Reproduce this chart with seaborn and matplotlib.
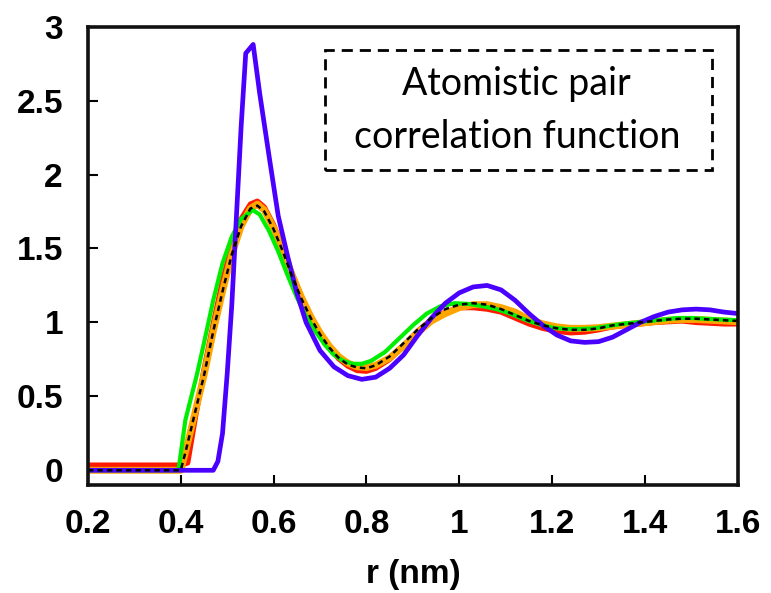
import numpy as np
import pandas as pd
import matplotlib
matplotlib.use("Agg")
import matplotlib.pyplot as plt
from matplotlib.patches import Rectangle
import seaborn as sns

# Pair correlation functions g(r)
r_blue = [0.20, 0.30, 0.40, 0.47, 0.48, 0.49, 0.50, 0.51, 0.52, 0.53, 0.54, 0.556,
          0.57, 0.59, 0.61, 0.63, 0.65, 0.67, 0.70, 0.73, 0.76, 0.79, 0.82, 0.85,
          0.88, 0.91, 0.94, 0.97, 1.00, 1.03, 1.06, 1.09, 1.12, 1.15, 1.18, 1.21,
          1.24, 1.27, 1.30, 1.33, 1.36, 1.39, 1.42, 1.45, 1.48, 1.51, 1.54, 1.57, 1.60]
g_blue = [0.00, 0.00, 0.00, 0.00, 0.06, 0.25, 0.65, 1.12, 1.72, 2.32, 2.82, 2.88,
          2.55, 2.13, 1.72, 1.45, 1.20, 1.00, 0.81, 0.70, 0.64, 0.615, 0.63, 0.69,
          0.78, 0.91, 1.03, 1.13, 1.20, 1.24, 1.25, 1.22, 1.15, 1.06, 0.98, 0.915,
          0.875, 0.865, 0.87, 0.90, 0.95, 1.00, 1.04, 1.07, 1.085, 1.09, 1.085, 1.07, 1.06]

r_red = [0.20, 0.30, 0.40, 0.415, 0.43, 0.45, 0.47, 0.49, 0.51, 0.53, 0.55, 0.565,
         0.58, 0.60, 0.62, 0.64, 0.66, 0.68, 0.70, 0.72, 0.74, 0.76, 0.78, 0.80,
         0.82, 0.85, 0.88, 0.91, 0.94, 0.97, 1.00, 1.03, 1.06, 1.09, 1.12, 1.15,
         1.18, 1.21, 1.24, 1.27, 1.30, 1.33, 1.36, 1.39, 1.42, 1.45, 1.48, 1.51,
         1.54, 1.57, 1.60]
g_red = [0.035, 0.035, 0.035, 0.05, 0.33, 0.68, 0.99, 1.28, 1.52, 1.70, 1.80, 1.82,
         1.78, 1.66, 1.50, 1.33, 1.17, 1.03, 0.92, 0.83, 0.755, 0.705, 0.675, 0.67,
         0.69, 0.75, 0.84, 0.94, 1.02, 1.07, 1.10, 1.10, 1.09, 1.07, 1.03, 0.99,
         0.96, 0.94, 0.93, 0.935, 0.95, 0.97, 0.98, 0.99, 1.00, 1.005, 1.01, 1.00,
         0.995, 0.99, 0.99]

r_green = [0.20, 0.30, 0.395, 0.41, 0.435, 0.45, 0.47, 0.49, 0.51, 0.53, 0.555,
           0.57, 0.59, 0.61, 0.63, 0.65, 0.67, 0.69, 0.71, 0.73, 0.75, 0.77, 0.79,
           0.81, 0.84, 0.87, 0.90, 0.93, 0.96, 0.99, 1.02, 1.05, 1.08, 1.11, 1.14,
           1.17, 1.20, 1.23, 1.26, 1.29, 1.32, 1.35, 1.38, 1.41, 1.44, 1.47, 1.50,
           1.53, 1.56, 1.60]
g_green = [0.00, 0.00, 0.00, 0.34, 0.65, 0.86, 1.15, 1.40, 1.58, 1.70, 1.76,
           1.73, 1.62, 1.48, 1.32, 1.17, 1.04, 0.94, 0.85, 0.78, 0.74, 0.72, 0.72,
           0.74, 0.80, 0.89, 0.98, 1.06, 1.11, 1.13, 1.125, 1.11, 1.09, 1.06, 1.02,
           0.99, 0.965, 0.955, 0.955, 0.96, 0.975, 0.99, 1.00, 1.01, 1.02, 1.03, 1.03,
           1.025, 1.02, 1.015]

r_ref = [0.20, 0.30, 0.40, 0.41, 0.43, 0.45, 0.47, 0.49, 0.51, 0.53, 0.55, 0.565,
         0.58, 0.60, 0.62, 0.64, 0.66, 0.68, 0.70, 0.72, 0.74, 0.76, 0.78, 0.80,
         0.82, 0.85, 0.88, 0.91, 0.94, 0.97, 1.00, 1.03, 1.06, 1.09, 1.12, 1.15,
         1.18, 1.21, 1.24, 1.27, 1.30, 1.33, 1.36, 1.39, 1.42, 1.45, 1.48, 1.51,
         1.54, 1.57, 1.60]
g_orange = [0.00, 0.00, 0.00, 0.12, 0.38, 0.64, 0.94, 1.21, 1.46, 1.65, 1.77, 1.80,
            1.76, 1.64, 1.49, 1.32, 1.17, 1.04, 0.93, 0.84, 0.77, 0.725, 0.70, 0.695,
            0.71, 0.76, 0.84, 0.93, 1.01, 1.06, 1.10, 1.12, 1.12, 1.10, 1.07, 1.02,
            0.99, 0.97, 0.96, 0.96, 0.965, 0.975, 0.985, 0.995, 1.005, 1.015, 1.02,
            1.02, 1.015, 1.01, 1.005]
g_ref = [0.00, 0.00, 0.00, 0.12, 0.38, 0.64, 0.94, 1.21, 1.46, 1.65, 1.77, 1.79,
         1.75, 1.63, 1.48, 1.31, 1.16, 1.03, 0.92, 0.83, 0.76, 0.715, 0.695, 0.69,
         0.71, 0.77, 0.86, 0.95, 1.03, 1.09, 1.12, 1.13, 1.12, 1.09, 1.05, 1.01,
         0.98, 0.96, 0.95, 0.95, 0.96, 0.98, 0.99, 1.00, 1.01, 1.02, 1.025, 1.025,
         1.02, 1.015, 1.01]

x_ticks = [0.2, 0.4, 0.6, 0.8, 1.0, 1.2, 1.4, 1.6]
x_tick_labels = ["0.2", "0.4", "0.6", "0.8", "1", "1.2", "1.4", "1.6"]
y_ticks = [0, 0.5, 1, 1.5, 2, 2.5, 3]
y_tick_labels = ["0", "0.5", "1", "1.5", "2", "2.5", "3"]

sns.set_style("ticks")
plt.rcParams["font.family"] = ["Liberation Sans", "DejaVu Sans"]
plt.rcParams["text.color"] = "black"
plt.rcParams["xtick.color"] = "black"
plt.rcParams["ytick.color"] = "black"
plt.rcParams["axes.labelcolor"] = "black"

fig = plt.figure(figsize=(7.71, 5.93), dpi=100)
ax = fig.add_axes([0.114, 0.182, 0.843, 0.773])

series = [
    (r_red, g_red, "#ff1a00", 3.8),
    (r_ref, g_orange, "#ffa500", 5.0),
    (r_green, g_green, "#00ee00", 3.0),
    (r_blue, g_blue, "#4a00ff", 3.4),
]
for r, g, col, lw in series:
    df = pd.DataFrame({"r": r, "g": g})
    sns.lineplot(data=df, x="r", y="g", ax=ax, color=col, lw=lw,
                 solid_joinstyle="round", solid_capstyle="butt")

df_ref = pd.DataFrame({"r": r_ref, "g": g_ref})
sns.lineplot(data=df_ref, x="r", y="g", ax=ax, color="black", lw=1.8)
ax.lines[-1].set_dashes([2.2, 1.6])

ax.set_xlim(0.2, 1.6)
ax.set_ylim(-0.1, 3.0)
ax.set_xticks(x_ticks)
ax.set_xticklabels(x_tick_labels)
ax.set_yticks(y_ticks)
ax.set_yticklabels(y_tick_labels)
ax.tick_params(axis="both", direction="in", length=7, width=1.5,
               labelsize=24, top=False, right=False, colors="black")
ax.tick_params(axis="x", pad=17)
ax.tick_params(axis="y", pad=18)
for lab in ax.get_xticklabels() + ax.get_yticklabels():
    lab.set_fontweight("bold")
for sp in ax.spines.values():
    sp.set_linewidth(2.6)
    sp.set_color("#111111")
    sp.set_visible(True)

ax.set_xlabel("r (nm)", fontsize=24, fontweight="bold", labelpad=14,
              color="black")
ax.set_ylabel("")

box = Rectangle((0.365, 0.687), 0.595, 0.262, transform=ax.transAxes,
                fill=False, ec="black", lw=2.0, ls=(0, (4, 2.5)), zorder=5)
ax.add_patch(box)
ax.text(0.66, 0.851, "Atomistic pair", transform=ax.transAxes, ha="center",
        va="baseline", fontsize=27, color="black", family=["Lato", "DejaVu Sans"])
ax.text(0.66, 0.735, "correlation function", transform=ax.transAxes,
        ha="center", va="baseline", fontsize=27, color="black",
        family=["Lato", "DejaVu Sans"])

fig.savefig("out.png", dpi=100)
